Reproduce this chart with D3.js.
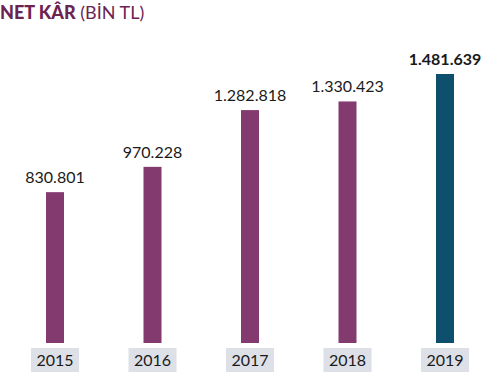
<!DOCTYPE html>
<html lang="tr">
  <head>
    <meta charset='utf-8'>
    <script src='https://d3js.org/d3.v7.min.js'></script>
    <title>Net Kar</title>
    <style>
      body {
        margin: 0px;
        background: #fff;
      }
      .title {
        font-family: Lato, sans-serif;
        font-size: 18px;
        fill: #6b2452;
      }
      .value-label {
        font-family: Lato, sans-serif;
        font-size: 16px;
        fill: #1a1a1a;
        text-anchor: middle;
      }
      .year-label {
        font-family: Lato, sans-serif;
        font-size: 16px;
        fill: #1a1a1a;
        text-anchor: middle;
      }
    </style>
  </head>
  <body>
    <div id='chart'></div>
    <script>
      const years = ['2015', '2016', '2017', '2018', '2019'];
      const values = [830801, 970228, 1282818, 1330423, 1481639];
      const valueLabels = ['830.801', '970.228', '1.282.818', '1.330.423', '1.481.639'];

      const width = 500,
        height = 375;
      const barWidth = 18;
      const boxWidth = 48, boxHeight = 24;
      const baseY = 343;

      const data = years.map((y, i) => ({ year: y, value: values[i], label: valueLabels[i], last: i === years.length - 1 }));

      const svg = d3.select('#chart').append('svg')
        .attr('width', width)
        .attr('height', height);

      // title
      const title = svg.append('text')
        .attr('class', 'title')
        .attr('x', 0)
        .attr('y', 19);
      title.append('tspan').attr('font-weight', 900).text('NET KÂR');
      title.append('tspan').text(' (BİN TL)');

      const xScale = d3.scalePoint()
        .domain(years)
        .range([55, 445]);

      const yScale = d3.scaleLinear()
        .domain([0, 1481639])
        .range([baseY, 74]);

      svg.selectAll('rect.bar').data(data)
        .enter().append('rect')
        .attr('class', 'bar')
        .attr('x', d => xScale(d.year) - barWidth / 2)
        .attr('y', d => yScale(d.value))
        .attr('width', barWidth)
        .attr('height', d => baseY - yScale(d.value))
        .attr('fill', d => d.last ? '#0d4f6c' : '#833a6e');

      svg.selectAll('text.value-label').data(data)
        .enter().append('text')
        .attr('class', 'value-label')
        .attr('x', d => xScale(d.year))
        .attr('y', d => yScale(d.value) - 9)
        .attr('font-weight', d => d.last ? 700 : 400)
        .text(d => d.label);

      svg.selectAll('rect.box').data(data)
        .enter().append('rect')
        .attr('class', 'box')
        .attr('x', d => xScale(d.year) - boxWidth / 2)
        .attr('y', 348)
        .attr('width', boxWidth)
        .attr('height', boxHeight)
        .attr('fill', '#dde0e6');

      svg.selectAll('text.year-label').data(data)
        .enter().append('text')
        .attr('class', 'year-label')
        .attr('x', d => xScale(d.year))
        .attr('y', 348 + boxHeight / 2)
        .attr('dy', '0.36em')
        .text(d => d.year);
    </script>
  </body>
</html>
